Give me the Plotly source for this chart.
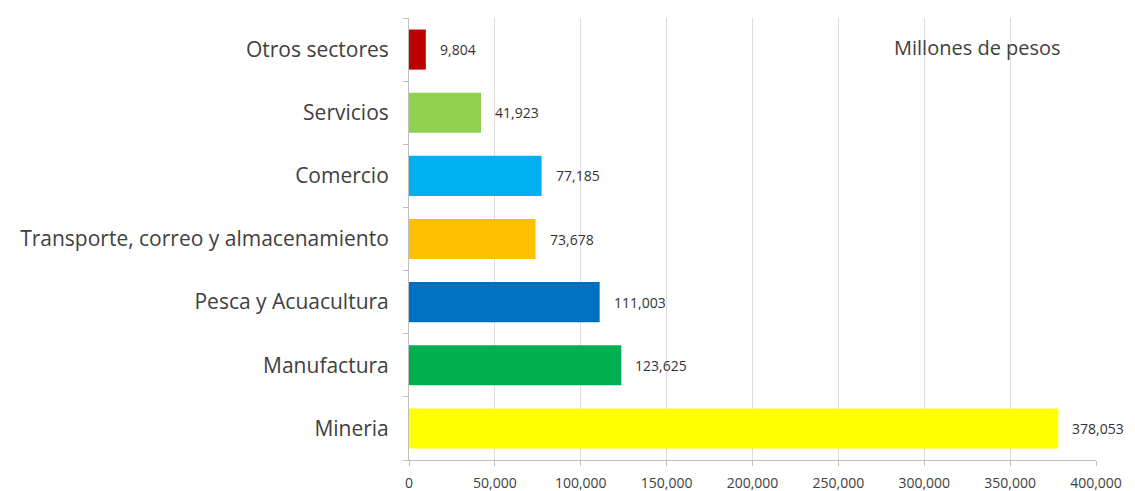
import plotly.graph_objects as go

categories = ["Mineria", "Manufactura", "Pesca y Acuacultura",
              "Transporte, correo y almacenamiento", "Comercio", "Servicios", "Otros sectores"]
values = [378053, 123625, 111003, 73678, 77185, 41923, 9804]
colors = ["#FFFF00", "#00B050", "#0070C0", "#FFC000", "#00B0F0", "#92D050", "#C00000"]
x_ticks = [0, 50000, 100000, 150000, 200000, 250000, 300000, 350000, 400000]

FONT = "Open Sans, Lato, sans-serif"

fig = go.Figure(go.Bar(
    x=values, y=categories, orientation="h",
    marker=dict(color=colors, line=dict(width=0)),
    hoverinfo="x+y",
))

for c, v in zip(categories, values):
    fig.add_annotation(x=v, y=c, text=f"{v:,}", showarrow=False,
                       xanchor="left", xshift=12,
                       font=dict(family=FONT, size=14, color="#333333"))

fig.add_annotation(xref="paper", yref="paper", x=0.828, y=0.934, text="Millones de pesos",
                   showarrow=False, xanchor="center", yanchor="middle",
                   font=dict(family=FONT, size=20, color="#404040"))

fig.update_layout(
    width=1135, height=491,
    margin=dict(l=401, r=47, t=10, b=39),
    paper_bgcolor="white", plot_bgcolor="white",
    bargap=0.365,
    showlegend=False,
    font=dict(family=FONT, color="#404040"),
)
fig.update_xaxes(range=[0, 400000], tickvals=x_ticks, tickformat=",",
                 showgrid=True, gridcolor="#DDDDDD", gridwidth=1,
                 zeroline=False, showline=True, linecolor="#BFBFBF",
                 ticks="outside", ticklen=5, tickcolor="#BFBFBF",
                 ticklabelstandoff=5, automargin=False,
                 tickfont=dict(family=FONT, size=14, color="#404040"))
fig.update_yaxes(showline=True, linecolor="#BFBFBF", ticks="outside", ticklen=5,
                 tickcolor="#BFBFBF", tickson="boundaries", showgrid=False,
                 automargin=False, ticklabelstandoff=15,
                 tickfont=dict(family=FONT, size=21, color="#404040"))

fig.write_html("out.html")
